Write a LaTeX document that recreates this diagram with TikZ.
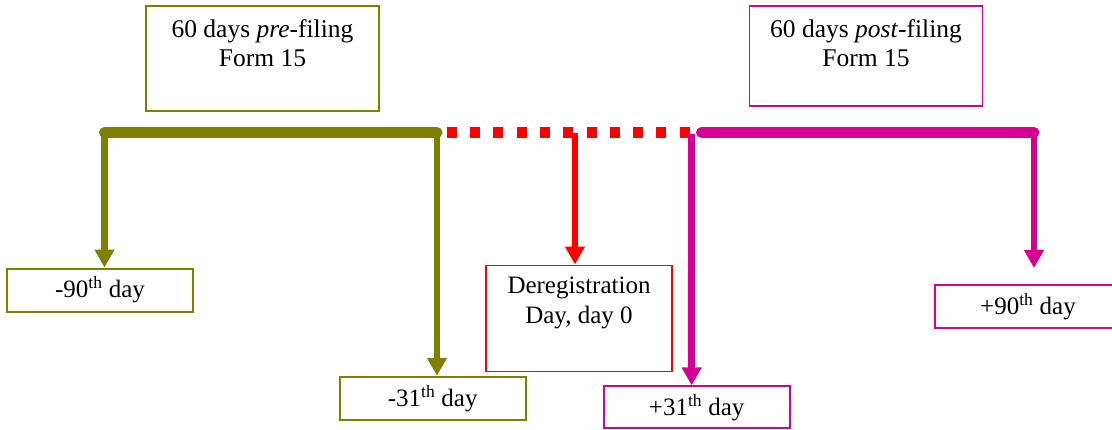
\documentclass[tikz,border=0pt]{standalone}
\usepackage{fontspec}
\setmainfont{Liberation Serif}
\usetikzlibrary{arrows.meta,positioning}
\definecolor{preolive}{RGB}{128,128,0}
\definecolor{postmag}{RGB}{214,0,147}
\definecolor{deregred}{RGB}{255,0,0}
\begin{document}
\begin{tikzpicture}[
  x=1pt, y=-1pt,
  box/.style={draw, line width=1.6pt, fill=white, inner sep=0pt, align=center, font=\fontsize{25}{30}\selectfont},
  topbox/.style={box, minimum width=233pt},
  daybox/.style={box, minimum width=186pt, minimum height=43pt},
  inlabel/.style={anchor=north, inner sep=0pt, align=center, yshift=-14pt, font=\fontsize{25.5}{29.5}\selectfont},
  bar/.style={line width=11pt, line cap=round},
  drop/.style={line width=6.5pt, -{Triangle[width=19pt,length=18pt]}},
]
\useasboundingbox (0,0) rectangle (1112,429);
\node[topbox, draw=preolive, line width=2pt, minimum height=105pt,
  label={[inlabel]north:60 days \textit{pre}-filing\\Form 15}] (pre) at (262.5,58.5) {};
\node[topbox, draw=postmag, minimum height=100pt,
  label={[inlabel]north:60 days \textit{post}-filing\\Form 15}] (post) at (866,56) {};
\node[daybox, draw=preolive, line width=2pt] (m90) at (100,290) {-90\textsuperscript{th} day};
\node[daybox, draw=preolive, line width=2pt] (m31) at (432.7,398.3) {-31\textsuperscript{th} day};
\node[box, draw=deregred, minimum width=186pt, minimum height=106pt,
  label={[inlabel, yshift=1.5pt, font=\fontsize{25}{30}\selectfont]north:Deregistration\\Day, day 0}] (dereg) at (579,318.3) {};
\node[daybox, draw=postmag, minimum height=42pt] (p31) at (696.7,407.2) {+31\textsuperscript{th} day};
\node[daybox, draw=postmag] (p90) at (1028,306.3) {+90\textsuperscript{th} day};
\coordinate (olA) at (104.5,132.5);
\coordinate (olB) at (437,132.5);
\coordinate (rdA) at (446.7,132.5);
\coordinate (rdB) at (691.7,132.5);
\coordinate (rdC) at (575,132.5);
\coordinate (mgA) at (701.5,132.5);
\coordinate (mgB) at (1034,132.5);
\coordinate (mgC) at (691.7,133.5);
\draw[bar, preolive] (olA) -- (olB);
\draw[deregred, line width=11.5pt, dash pattern=on 10pt off 13.3pt] (rdA) -- (rdB);
\draw[bar, postmag] (mgA) -- (mgB);
\draw[drop, preolive] (olA) -- (olA |- m90.north);
\draw[drop, preolive] (olB) -- (olB |- m31.north);
\draw[drop, deregred] (rdC) -- (rdC |- dereg.north);
\draw[drop, postmag] (mgC) -- (mgC |- p31.north);
\draw[drop, postmag, shorten >=16pt] (mgB) -- (mgB |- p90.north);
\end{tikzpicture}
\end{document}
